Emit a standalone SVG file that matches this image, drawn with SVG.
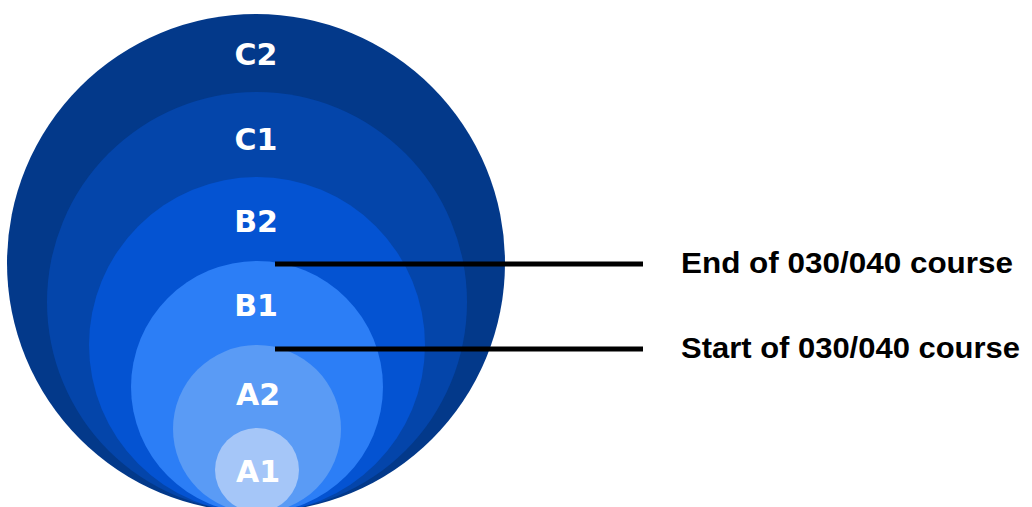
<svg xmlns="http://www.w3.org/2000/svg" width="1032" height="507" viewBox="0 0 1032 507">
  <style>
    .lvl { font-family: "DejaVu Sans", Verdana, sans-serif; font-weight: bold; font-size: 30px; fill: #ffffff; text-anchor: middle; }
    .note { font-family: "Liberation Sans", Arial, sans-serif; font-weight: bold; font-size: 29px; fill: #000000; }
    .conn { stroke: #000000; stroke-width: 5; fill: none; }
  </style>
  <rect width="1032" height="507" fill="#ffffff"/>
  <g id="C2"><circle cx="256" cy="263" r="249" fill="#03398a"/><text class="lvl" x="256" y="65">C2</text></g>
  <g id="C1"><circle cx="257" cy="302" r="210" fill="#0445aa"/><text class="lvl" x="256" y="150">C1</text></g>
  <g id="B2"><circle cx="257" cy="345" r="168" fill="#0453d2"/><text class="lvl" x="256" y="232">B2</text></g>
  <g id="B1"><circle cx="257" cy="387" r="126" fill="#2c7ef6"/><text class="lvl" x="256" y="316">B1</text></g>
  <g id="A2"><circle cx="257" cy="429" r="84" fill="#5a9bf5"/><text class="lvl" x="258" y="405">A2</text></g>
  <g id="A1"><circle cx="257" cy="470" r="42" fill="#a5c6f8"/><text class="lvl" x="258" y="482">A1</text></g>
  <g id="connectors">
    <line class="conn" x1="275" y1="264" x2="643" y2="264"/>
    <line class="conn" x1="275" y1="349" x2="643" y2="349"/>
  </g>
  <g id="end-label"><text class="note" x="681" y="273" textLength="332" lengthAdjust="spacingAndGlyphs">End of 030/040 course</text></g>
  <g id="start-label"><text class="note" x="681" y="358" textLength="339" lengthAdjust="spacingAndGlyphs">Start of 030/040 course</text></g>
</svg>
